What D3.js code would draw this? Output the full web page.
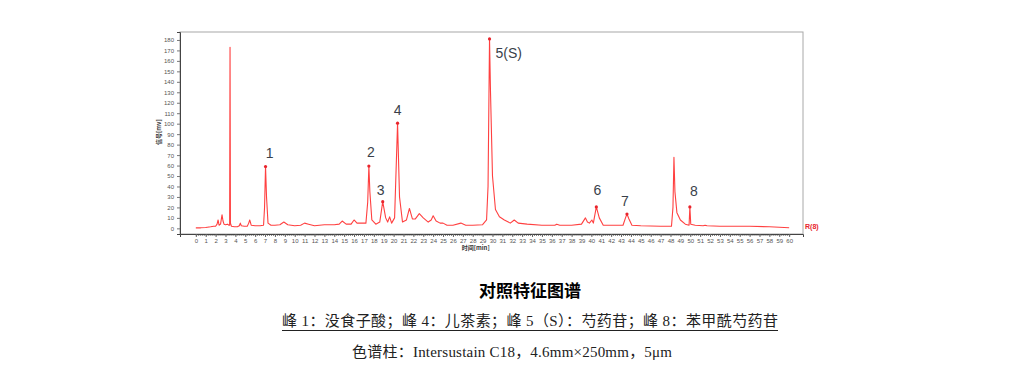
<!DOCTYPE html>
<html>
<head>
<meta charset="utf-8">
<script src="https://cdn.jsdelivr.net/npm/d3@7"></script>
<style>
  body { margin: 0; background: #fff; }
  svg { display: block; }
  .tick text { fill: #555; }
</style>
</head>
<body>
<svg id="chart" width="1024" height="387"></svg>
<script>
// retention time (min) and detector signal (mV)
const rtMin = [0, 0.5, 1.0, 1.5, 1.8, 2.0, 2.15, 2.25, 2.35, 2.5, 2.65, 2.75, 2.85, 3.0, 3.2, 3.35, 3.42, 3.46, 3.5, 3.6, 3.9, 4.2, 4.4, 4.5, 4.6, 4.9, 5.2, 5.35, 5.45, 5.6, 6.0, 6.5, 6.85, 6.95, 7.05, 7.15, 7.3, 7.6, 8.0, 8.5, 8.9, 9.3, 10.0, 10.6, 11.0, 11.4, 12.0, 13.0, 14.0, 14.5, 14.8, 15.2, 15.7, 16.0, 16.3, 16.8, 17.2, 17.38, 17.5, 17.6, 17.8, 18.2, 18.6, 18.9, 19.2, 19.4, 19.6, 19.8, 20.1, 20.4, 20.6, 20.9, 21.3, 21.6, 21.9, 22.2, 22.6, 23.0, 23.5, 23.8, 24.0, 24.3, 24.7, 25.0, 25.4, 26.0, 26.8, 27.3, 28.0, 29.0, 29.4, 29.55, 29.7, 29.8, 30.0, 30.3, 30.7, 31.2, 31.8, 32.2, 32.6, 33.5, 35.0, 36.3, 36.5, 36.8, 38.0, 39.0, 39.4, 39.6, 39.8, 40.05, 40.2, 40.5, 40.8, 41.2, 42.0, 43.2, 43.45, 43.6, 43.8, 44.1, 45.0, 47.0, 48.1, 48.25, 48.35, 48.45, 48.65, 49.0, 49.5, 49.88, 49.96, 50.05, 50.5, 51.3, 51.5, 51.7, 53.0, 56.0, 58.0, 59.5, 60.0];
const signalMv = [0.5, 0.5, 0.8, 1.5, 2, 2, 4, 8, 3, 4, 13, 7, 4, 3.5, 4, 3, 3, 173, 5, 2, 1.5, 1.5, 2.5, 5, 2.5, 2, 2, 5, 8, 3, 2.5, 2.5, 3, 20, 59, 30, 5, 3, 3, 3.5, 6, 3.5, 2.5, 3, 5, 4, 2.5, 3.5, 3.5, 4, 7, 4, 4, 8, 5, 5, 5, 25, 59.5, 35, 8, 4, 6, 25.5, 10, 6, 11, 5, 10, 100.5, 30, 6, 8, 19, 9, 9, 14, 10, 6, 8, 12, 7, 5, 5, 3, 3, 5, 3, 3, 3.5, 8, 40, 181, 130, 50, 18, 11, 8, 5, 8, 5, 4, 3, 3, 4, 3, 3, 4, 10, 6, 5, 8, 5, 20.5, 10, 3, 3, 3, 10, 13.7, 9, 3, 2.5, 2, 2, 20, 68, 35, 15, 8, 4, 3, 20.5, 4, 3, 2.5, 3, 2.5, 2, 2, 1.5, 0.8, 0.5];

// numbered peaks
const peakNames = ["1", "2", "3", "4", "5(S)", "6", "7", "8"];
const peakRt = [7.05, 17.5, 18.9, 20.4, 29.7, 40.5, 43.6, 49.96];
const peakMv = [59, 59.5, 25.5, 100.5, 181, 20.5, 13.7, 20.5];

const xTicks = d3.range(0, 61, 1);
const yTicks = d3.range(0, 181, 10);

const titleText = "对照特征图谱";
const peakNote = "峰 1：没食子酸；峰 4：儿茶素；峰 5（S）：芍药苷；峰 8：苯甲酰芍药苷";
const columnNote = "色谱柱：Intersustain C18，4.6mm×250mm，5μm";

const svg = d3.select("#chart");
const frame = {left: 180, right: 803, top: 32, bottom: 234};

const x = d3.scaleLinear().domain([-1.6, 61.4]).range([frame.left, frame.right]);
const y = d3.scaleLinear().domain([-5.4, 187.6]).range([frame.bottom, frame.top]);

// plot frame
svg.append("rect")
  .attr("x", frame.left).attr("y", frame.top)
  .attr("width", frame.right - frame.left)
  .attr("height", frame.bottom - frame.top)
  .attr("fill", "none").attr("stroke", "#a8a8a8").attr("stroke-width", 1);

// y axis
const yAxis = svg.append("g")
  .attr("transform", `translate(${frame.left},0)`)
  .call(d3.axisLeft(y).tickValues(yTicks).tickSize(3).tickPadding(3))
yAxis.select(".domain").attr("stroke", "#444");
yAxis.selectAll(".tick line").attr("stroke", "#777");
yAxis.selectAll("text").attr("font-size", 6).attr("font-family", "Liberation Sans, Arial");

// x axis, minor ticks every 0.2 min
svg.append("g")
  .attr("transform", `translate(0,${frame.bottom})`)
  .call(d3.axisBottom(x).tickValues(d3.range(0, 60.01, 0.2)).tickSize(2).tickFormat(""))
  .call(g => g.select(".domain").remove())
  .selectAll("line").attr("stroke", "#888");
const xAxis = svg.append("g")
  .attr("transform", `translate(0,${frame.bottom})`)
  .call(d3.axisBottom(x).tickValues(xTicks).tickSize(3).tickPadding(2))
xAxis.select(".domain").attr("stroke", "#444");
xAxis.selectAll(".tick line").attr("stroke", "#666");
xAxis.selectAll("text").attr("font-size", 6).attr("font-family", "Liberation Sans, Arial");

// axis titles
svg.append("text")
  .attr("x", x(28.3)).attr("y", frame.bottom + 16)
  .attr("text-anchor", "middle")
  .attr("font-size", 6).attr("font-weight", "bold").attr("fill", "#333")
  .attr("font-family", "Noto Sans CJK SC")
  .text("时间[min]");
svg.append("text")
  .attr("transform", `translate(161,${y(92)}) rotate(-90)`)
  .attr("text-anchor", "middle")
  .attr("font-size", 6).attr("font-weight", "bold").attr("fill", "#333")
  .attr("font-family", "Noto Sans CJK SC")
  .text("信号[mv]");

// chromatogram trace
const line = d3.line().x((d, i) => x(rtMin[i])).y(d => y(d));
svg.append("path")
  .datum(signalMv)
  .attr("d", line)
  .attr("fill", "none")
  .attr("stroke", "#ff4040")
  .attr("stroke-width", 1.1)
  .attr("stroke-linejoin", "round");

svg.append("text")
  .attr("x", frame.right + 2).attr("y", y(0) + 1)
  .attr("font-size", 7).attr("font-weight", "bold").attr("fill", "#e8242c")
  .attr("font-family", "Liberation Sans, Arial")
  .text("R(8)");

// peak tops and labels
const labelShift = [[4, -14], [2, -14], [-2, -12], [0, -13], [16, 14], [1, -17], [-2, -13], [4, -16]];
svg.append("g").selectAll("circle")
  .data(peakRt)
  .join("circle")
  .attr("cx", d => x(d))
  .attr("cy", (d, i) => y(peakMv[i]))
  .attr("r", 1.6)
  .attr("fill", "#e8242c");
svg.append("g").selectAll("text")
  .data(peakNames)
  .join("text")
  .attr("x", (d, i) => x(peakRt[i]) + labelShift[i][0])
  .attr("y", (d, i) => y(peakMv[i]) + labelShift[i][1] + 5)
  .attr("text-anchor", (d, i) => i === 4 ? "start" : "middle")
  .attr("dx", (d, i) => i === 4 ? -10 : 0)
  .attr("font-size", 14)
  .attr("font-family", "Liberation Sans, Arial")
  .attr("fill", "#3a3f4a")
  .text(d => d);

// caption block
svg.append("text")
  .attr("x", 530).attr("y", 297)
  .attr("text-anchor", "middle")
  .attr("font-size", 17).attr("font-weight", "bold")
  .attr("font-family", "Noto Sans CJK SC").attr("fill", "#000")
  .text(titleText);
svg.append("text")
  .attr("x", 282).attr("y", 326)
  .attr("font-size", 15)
  .attr("textLength", 496).attr("lengthAdjust", "spacing")
  .attr("font-family", "Liberation Serif, Noto Sans CJK SC").attr("fill", "#222")
  .text(peakNote);
svg.append("line")
  .attr("x1", 282).attr("x2", 778)
  .attr("y1", 330.5).attr("y2", 330.5)
  .attr("stroke", "#222").attr("stroke-width", 1);
svg.append("text")
  .attr("x", 352).attr("y", 357)
  .attr("font-size", 15)
  .attr("textLength", 320).attr("lengthAdjust", "spacing")
  .attr("font-family", "Liberation Serif, Noto Sans CJK SC").attr("fill", "#222")
  .text(columnNote);
</script>
</body>
</html>
